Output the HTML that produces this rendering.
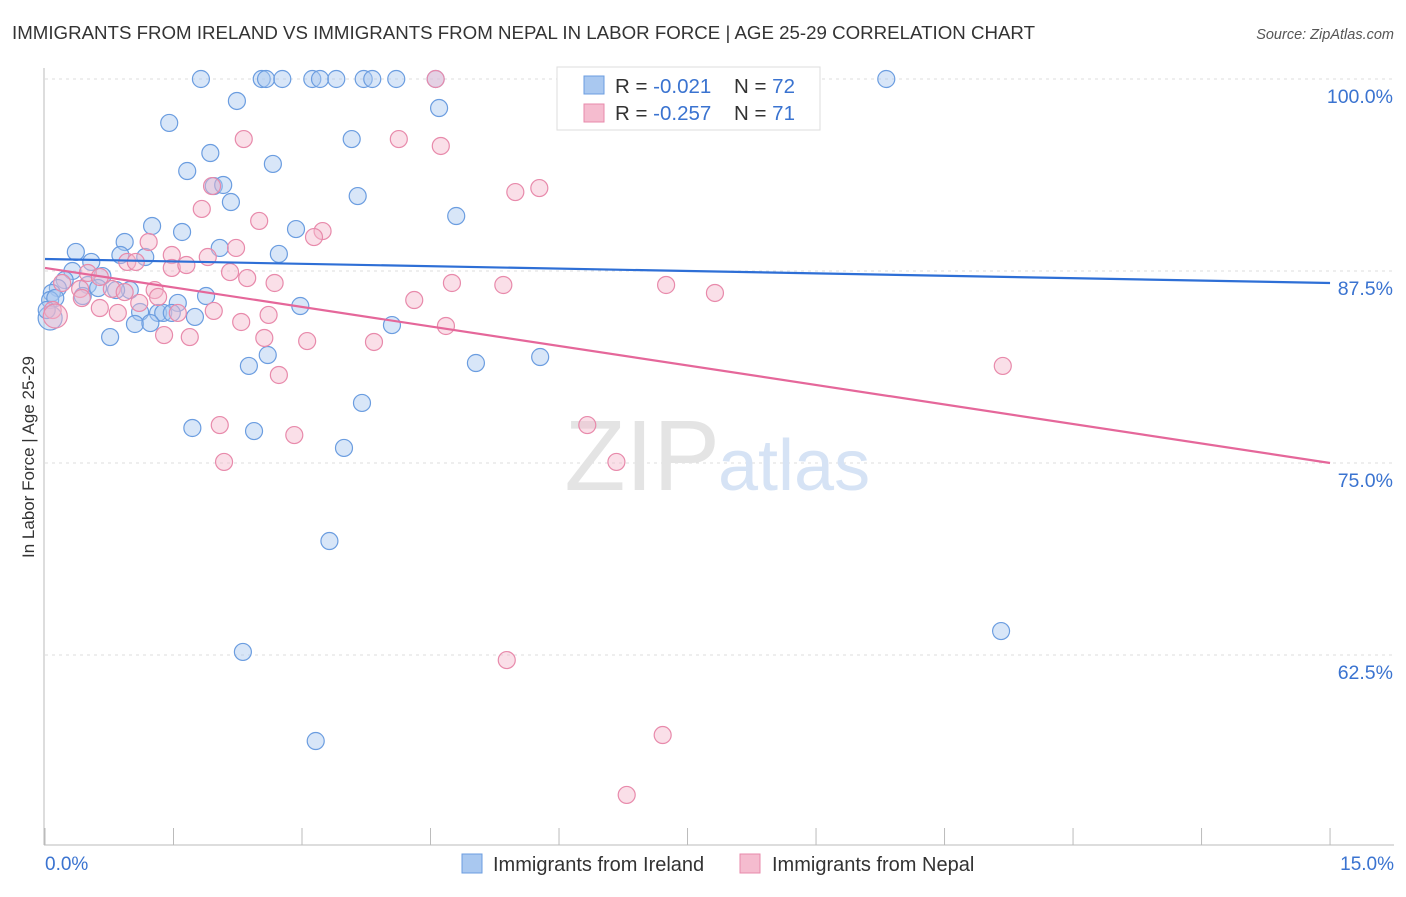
<!DOCTYPE html>
<html><head><meta charset="utf-8"><style>
body{margin:0;background:#fff;font-family:"Liberation Sans",sans-serif}
svg text{font-family:"Liberation Sans",sans-serif}
</style></head><body>
<svg id="chart" width="1406" height="892">
<text x="12" y="39" font-size="18" fill="#333" textLength="1023" lengthAdjust="spacingAndGlyphs">IMMIGRANTS FROM IRELAND VS IMMIGRANTS FROM NEPAL IN LABOR FORCE | AGE 25-29 CORRELATION CHART</text>
<text x="1394" y="39" font-size="14.5" fill="#555" font-style="italic" text-anchor="end">Source: ZipAtlas.com</text>
<text x="0" y="0" transform="translate(34,457) rotate(-90)" font-size="17" fill="#333" text-anchor="middle">In Labor Force | Age 25-29</text>
<g id="grid"></g>
<text x="720" y="490" font-size="100" fill="#e4e4e4" text-anchor="end" font-family="Liberation Serif">ZIP</text>
<text x="718" y="490" font-size="72" fill="#d6e3f5">atlas</text>
<g id="points"></g>
<g id="lines"></g>
<g>
<rect x="557" y="67" width="263" height="63" fill="#fff" stroke="#ddd"/>
<rect x="584" y="76" width="20" height="18" fill="#a9c8f0" stroke="#6b9de0"/>
<rect x="584" y="104" width="20" height="18" fill="#f5bccf" stroke="#e88aab"/>
<text x="615" y="93" font-size="20.5" fill="#333">R = <tspan fill="#3a73d0">-0.021</tspan></text>
<text x="734" y="93" font-size="20.5" fill="#333">N = <tspan fill="#3a73d0">72</tspan></text>
<text x="615" y="120" font-size="20.5" fill="#333">R = <tspan fill="#3a73d0">-0.257</tspan></text>
<text x="734" y="120" font-size="20.5" fill="#333">N = <tspan fill="#3a73d0">71</tspan></text>
</g>
<g>
<rect x="462" y="854" width="20" height="19" fill="#a9c8f0" stroke="#6b9de0"/>
<text x="493" y="871" font-size="20" fill="#333">Immigrants from Ireland</text>
<rect x="740" y="854" width="20" height="19" fill="#f5bccf" stroke="#e88aab"/>
<text x="772" y="871" font-size="20" fill="#333">Immigrants from Nepal</text>
</g>
</svg>
<script>
const blueX=[1.82,2.53,2.58,2.77,3.12,3.21,3.40,3.72,3.82,4.10,4.56,9.82,2.24,4.60,1.45,3.58,1.93,2.66,1.66,1.97,2.08,3.65,2.17,4.80,1.25,2.93,1.60,0.93,2.04,2.73,0.36,1.17,0.54,0.88,0.32,0.67,0.23,0.50,0.15,0.08,0.06,0.12,0.99,0.83,0.62,0.44,1.55,1.88,2.98,1.11,1.32,1.38,1.48,1.75,1.05,1.23,0.76,4.05,2.60,2.38,5.03,5.78,3.70,1.72,2.44,3.49,3.32,2.31,11.16,3.16,0.06,0.02];
const blueY=[100,100,100,100,100,100,100,100,100,100,100,100,98.57,98.11,97.14,96.09,95.18,94.47,94.01,93.03,93.10,92.38,91.99,91.08,90.43,90.23,90.04,89.39,89.00,88.61,88.74,88.41,88.09,88.54,87.50,87.17,86.91,86.59,86.39,86.07,85.61,85.74,86.26,86.26,86.39,85.87,85.42,85.87,85.22,84.83,84.77,84.77,84.77,84.51,84.05,84.11,83.20,83.98,82.03,81.32,81.51,81.90,78.91,77.28,77.08,75.98,69.92,62.70,64.06,56.90,84.44,84.96];
const pinkX=[4.56,6.20,2.32,4.13,4.62,5.49,5.77,1.95,1.83,2.50,3.24,3.14,1.21,2.23,1.90,1.48,0.96,1.06,1.48,1.65,2.16,2.36,2.68,0.50,0.64,0.20,0.41,0.78,0.93,1.28,1.32,1.10,4.31,4.75,5.35,7.25,7.82,0.43,0.64,0.85,1.97,2.61,2.29,1.55,1.39,1.69,2.56,3.06,4.68,3.84,2.73,2.04,2.91,6.33,2.09,6.67,11.18,5.39,7.21,6.79,0.09,0.12];
const pinkY=[100,100,96.09,96.09,95.64,92.64,92.90,93.03,91.54,90.76,90.10,89.71,89.39,89.00,88.41,88.54,88.09,88.09,87.70,87.89,87.43,87.04,86.72,87.37,87.11,86.72,86.33,86.33,86.13,86.26,85.81,85.42,85.61,86.72,86.59,86.59,86.07,85.74,85.09,84.77,84.90,84.64,84.18,84.77,83.33,83.20,83.14,82.94,83.92,82.88,80.73,77.47,76.82,77.47,75.07,75.07,81.32,62.17,57.29,53.39,84.96,84.57];
const yTicks=[100,87.5,75,62.5];
const yTickLabels=["100.0%","87.5%","75.0%","62.5%"];
const xTicks=[0,1.5,3,4.5,6,7.5,9,10.5,12,13.5,15];
const trendBlue=[88.28,86.72];
const trendPink=[87.70,75.0];
const NS="http://www.w3.org/2000/svg";
const sx=v=>45+v*85.67, sy=v=>79+(100-v)*15.36;
function mk(t,a,p){const e=document.createElementNS(NS,t);for(const k in a)e.setAttribute(k,a[k]);p.appendChild(e);return e;}
const grid=document.getElementById('grid');
yTicks.forEach((v,i)=>{
 const l=mk('line',{x1:45,x2:1394,y1:sy(v),y2:sy(v),stroke:'#ddd','stroke-dasharray':'3,4'},grid);
 
 
 const t=mk('text',{x:1393,y:sy(v)+24,'font-size':19.5,fill:'#3a73d0','text-anchor':'end'},grid);
 t.textContent=yTickLabels[i];
 
 
});
const ax=mk('line',{x1:44,x2:44,y1:68,y2:845,stroke:'#bbb'},grid);


const bx=mk('line',{x1:44,x2:1394,y1:845,y2:845,stroke:'#bbb'},grid);


xTicks.forEach(v=>{
 const t=mk('line',{x1:sx(v),x2:sx(v),y1:828,y2:845,stroke:'#bbb'},grid);
 
 
});
const xl0=mk('text',{x:45,y:870,'font-size':19,fill:'#3a73d0'},grid);xl0.textContent="0.0%";


const xl1=mk('text',{x:1394,y:870,'font-size':19,fill:'#3a73d0','text-anchor':'end'},grid);xl1.textContent="15.0%";


const pts=document.getElementById('points');
function series(X,Y,fill,stroke,name,bigIdx){
 X.forEach((x,i)=>{
  const c=mk('circle',{cx:sx(x),cy:sy(Y[i]),r:bigIdx.includes(i)?12:8.5,fill:fill,'fill-opacity':0.45,stroke:stroke,'stroke-width':1.2},pts);
  
  
 });
}
series(blueX,blueY,'#a9c8f0','#6b9de0','ireland-point',[70]);
series(pinkX,pinkY,'#f5b7cb','#e88aab','nepal-point',[61]);
const lg=document.getElementById('lines');
const lb=mk('line',{x1:sx(0),y1:sy(trendBlue[0]),x2:sx(15),y2:sy(trendBlue[1]),stroke:'#2e6fd6','stroke-width':2.2},lg);


const lp=mk('line',{x1:sx(0),y1:sy(trendPink[0]),x2:sx(15),y2:sy(trendPink[1]),stroke:'#e5679a','stroke-width':2.2},lg);


</script>
</body></html>
